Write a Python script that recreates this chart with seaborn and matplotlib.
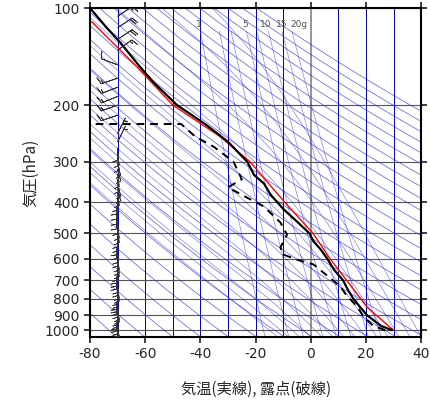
import numpy as np
import matplotlib
matplotlib.use("Agg")
import matplotlib.pyplot as plt
import seaborn as sns

sns.set_theme(style="white")
plt.rcParams["font.family"] = ["Noto Sans CJK JP", "DejaVu Sans"]

temp_p = [1000, 970, 900, 850, 800, 750, 700, 650, 600, 560, 530, 500, 460, 420, 380, 350, 330, 300, 260, 230, 200, 170, 150, 128, 115, 100]
temp_t = [29.5, 25.5, 20.5, 18.0, 15.5, 13.5, 11.7, 8.5, 6.0, 3.5, 1.0, -0.5, -5.0, -10.0, -14.5, -17.0, -20.5, -23.0, -30.0, -38.0, -48.5, -57.0, -62.5, -69.0, -74.0, -80.0]
dew_p = [1000, 970, 903, 844, 780, 730, 625, 604, 582, 553, 505, 463, 413, 388, 360, 340, 300, 270, 250, 229, 229, 229]
dew_t = [27.0, 22.6, 19.0, 16.8, 13.0, 10.6, 1.0, -5.0, -10.0, -11.0, -8.6, -11.0, -17.0, -23.0, -30.0, -25.0, -28.0, -35.0, -42.0, -47.0, -60.0, -80.0]
parcel_p = [1000, 850, 700, 600, 500, 400, 300, 250, 200, 150, 110]
parcel_t = [30.0, 20.5, 13.0, 7.0, 0.8, -9.5, -22.0, -33.0, -50.0, -63.7, -79.5]
# 下層：弱風（密な矢羽）
low_p = [1000, 985, 970, 955, 940, 925, 910, 895, 880, 865, 850, 835, 820, 805, 790, 775, 760, 745, 730, 715,
         700, 685, 670, 655, 640, 625, 610, 595, 580, 565, 550, 535, 520, 505, 490, 475, 460, 445, 430, 415,
         400, 388, 376, 364, 352, 340, 328, 316, 304, 292, 282, 272]
low_u = [-2, -1, -1, 0, 0, 1, 1, 0, 0, -1, -1, 0, 1, 1, 1, 0, 0, -1, -1, 0,
         0, 1, 1, 1, 0, -1, -1, -1, 0, 0, 1, 1, 0, 0, -1, -1, 0, 1, 1, 1,
         1, 0, -1, -2, -2, -1, -1, -2, -2, -1, -1, 0]
low_v = [8] * 52
# 上層：強風
up_p = [260, 245, 215, 200, 188, 176, 165, 150, 135, 125, 115, 106]
up_u = [-3, -3, 12, 14, 15, 13, 12, 8, -14, -15, -15, -12]
up_v = [-6, -6, 4, 5, 6, 5, 4, -3, -10, -10, -10, -8]
mix_labels = ["1", "5", "10", "15", "20g"]
mix_label_x = [-41.5, -25.0, -18.5, -12.5, -7.5]
mix_values = [1, 2, 3, 5, 7, 10, 15, 20]

# ── 背景線（断熱線・等混合比線） ───────────────────────────
p_all = np.geomspace(1050, 100, 200)
Rd, cp, Lv, eps = 287.0, 1004.0, 2.5e6, 0.622


def es(tc):
    return 6.112 * np.exp(17.67 * tc / (tc + 243.5))


def moist(t0):
    ts = [t0 + 273.15]
    for i in range(1, len(p_all)):
        T = ts[-1]
        rs = eps * es(T - 273.15) / (p_all[i - 1] - es(T - 273.15))
        g = (Rd * T + Lv * rs) / (cp + Lv**2 * rs * eps / (Rd * T**2))
        ts.append(T + g * np.log(p_all[i] / p_all[i - 1]))
    return np.array(ts) - 273.15


fig = plt.figure(figsize=(4.31, 4.08), dpi=100)
ax = fig.add_axes([0.209, 0.174, 0.768, 0.806])
ax.set_yscale("log")
blue = "#2222dd"

for x in range(-80, 41, 10):
    ax.axvline(x, color="#0000aa", lw=0.7, zorder=1)
ax.axvline(0, color="#999999", lw=1.4, zorder=1)
for p in range(100, 1001, 100):
    ax.axhline(p, color="#555555", lw=0.8, zorder=1)

for th in range(200, 500, 10):
    ax.plot(th * (p_all / 1000) ** 0.286 - 273.15, p_all, color=blue, lw=0.5, alpha=0.75, zorder=1)
for t0 in range(-12, 44, 4):
    ax.plot(moist(t0), p_all, color=blue, lw=0.5, alpha=0.55, zorder=1)
for w in mix_values:
    pp = np.geomspace(1050, 118, 50)
    e = w / 1000 * pp / (eps + w / 1000)
    le = np.log(e / 6.112)
    ax.plot(243.5 * le / (17.67 - le), pp, color=blue, lw=0.5, alpha=0.55, zorder=1)
for lab, lx in zip(mix_labels, mix_label_x):
    ax.text(lx, 112, lab, fontsize=6.5, color="#555555", ha="left", va="center",
            family="DejaVu Sans", zorder=2)

sns.lineplot(x=parcel_t, y=parcel_p, sort=False, color="red", lw=1.0, ax=ax, zorder=3)
sns.lineplot(x=temp_t, y=temp_p, sort=False, color="black", lw=1.6, ax=ax, zorder=4)
ax.plot(dew_t, dew_p, color="black", lw=1.4, ls=(0, (4, 3)), zorder=4)
ax.barbs(np.full(len(low_p), -70.0), low_p, low_u, low_v, length=4.2,
         lw=0.5, color="#333333", zorder=4, sizes=dict(emptybarb=0))
ax.barbs(np.full(len(up_p), -70.0), up_p, up_u, up_v, length=5,
         lw=0.6, color="#333333", zorder=4)

ax.set_xlim(-80, 40)
ax.set_ylim(1050, 100)
ax.set_yticks(range(100, 1001, 100))
ax.set_yticklabels([str(p) for p in range(100, 1001, 100)], family="DejaVu Sans")
ax.minorticks_off()
ax.set_xticks(range(-80, 41, 20))
ax.set_xticklabels([str(t) for t in range(-80, 41, 20)], family="DejaVu Sans")
ax.tick_params(direction="out", length=4, labelsize=10, left=True, bottom=True, right=True, top=True)
for s in ax.spines.values():
    s.set_color("black")
    s.set_linewidth(1.5)
ax.set_xlabel("気温(実線), 露点(破線)", fontsize=11, labelpad=14)
ax.set_ylabel("気圧(hPa)", fontsize=11)

fig.savefig("out.png", dpi=100)
